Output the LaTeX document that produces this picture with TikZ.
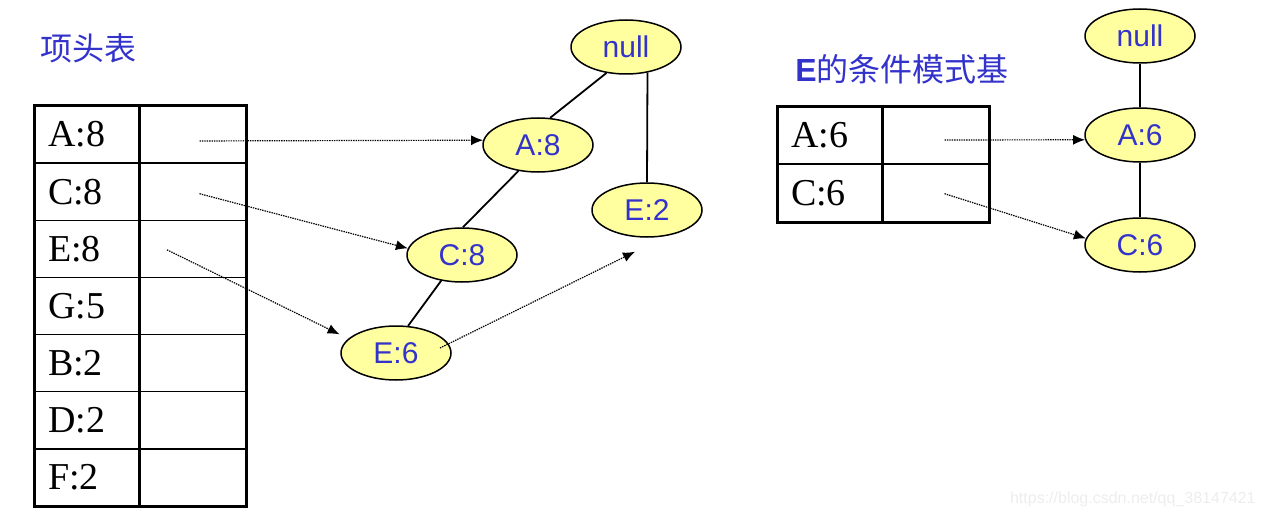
\documentclass[tikz,border=0pt]{standalone}
\usepackage{fontspec}
\setmainfont{Liberation Serif}
\newfontfamily\nodefont{Liberation Sans}
\newfontfamily\cjk{Noto Sans CJK SC}
\usetikzlibrary{shapes.geometric,arrows.meta,positioning}
\definecolor{nodefill}{RGB}{255,255,160}
\definecolor{textblue}{RGB}{51,51,204}
\tikzstyle{item} = [draw, rectangle, line width=0.75pt, minimum height=28.57pt,
    inner xsep=6.5pt, inner ysep=0pt, text width=39pt, align=left,
    font=\fontsize{19}{19}\selectfont]
\tikzstyle{link} = [draw, rectangle, line width=0.75pt, minimum height=28.57pt,
    minimum width=52.5pt, inner sep=0pt]
\tikzstyle{fpnode} = [draw, ellipse, fill=nodefill, line width=0.75pt,
    minimum width=55pt, minimum height=27pt, inner sep=0pt, text=textblue,
    font=\nodefont\fontsize{15}{15}\selectfont]
\tikzstyle{edge} = [line width=0.9pt]
\tikzstyle{pointer} = [->, dash pattern=on 0.7pt off 0.5pt, line width=0.6pt]
\tikzstyle{title} = [anchor=west, text=textblue, inner sep=0pt,
    font=\cjk\fontsize{16}{16}\selectfont]

\begin{document}
\begin{tikzpicture}[x=0.5pt, y=-0.5pt, >={Latex[length=6pt,width=5pt]}]
          \useasboundingbox (0,0) rectangle (1263,519);

          % Titles
          \node [title] (head) at (40,48) {项头表};
          \node [title] (cond) at (795,69) {{\nodefont\bfseries E}的条件模式基};

          % Header table
          \foreach \lbl [count=\i] in {A:8,C:8,E:8,G:5,B:2,D:2,F:2} {
            \node [item] (k\i) at (87,{106+57.14*\i-28.57}) {\lbl};
            \node [link, right=0pt of k\i] (p\i) {};
          }
          \draw [line width=1.5pt] (k1.north west) rectangle (p7.south east);

          % FP-tree
          \node [fpnode] (root) at (626,47) {null};
          \node [fpnode] (A8) at (538,145) {A:8};
          \node [fpnode] (C8) at (462,255) {C:8};
          \node [fpnode] (E6) at (396,353) {E:6};
          \node [fpnode] (E2) at (647,210) {E:2};
          \coordinate (e6in) at ([xshift=-8.5pt,yshift=-0.5pt]E6.north west);
          \coordinate (e2in) at ([xshift=-6pt,yshift=-7pt]E2.south);

          % Conditional pattern base of E
          \foreach \lbl [count=\i] in {A:6,C:6} {
            \node [item] (ck\i) at (830,{107+57.14*\i-28.57}) {\lbl};
            \node [link, right=0pt of ck\i] (cp\i) {};
          }
          \draw [line width=1.5pt] (ck1.north west) rectangle (cp2.south east);

          \node [fpnode] (croot) at (1140,36) {null};
          \node [fpnode] (A6) at (1140,135) {A:6};
          \node [fpnode] (C6) at (1140,245) {C:6};

          % Connections
          \draw [edge] (root.233) -- (A8.66);
          \draw [edge] (A8.233) -- (C8.88);
          \draw [edge] (C8.231) -- (E6.66);
          \draw [edge] (root.310) -- (E2.north);
          \draw [edge] (croot) -- (A6);
          \draw [edge] (A6) -- (C6);

          \draw [pointer] ([xshift=3.25pt,yshift=-3.2pt]p1.center) -- (A8.175);
          \draw [pointer] ([xshift=3.25pt,yshift=-1pt]p2.center) -- (C8.173);
          \draw [pointer] ([xshift=-13pt,yshift=-0.5pt]p3.center) -- (e6in);
          \draw [pointer] ([xshift=22pt,yshift=2.5pt]E6.center) -- (e2in);
          \draw [pointer] ([xshift=4.25pt,yshift=-2.2pt]cp1.center) -- (A6.185);
          \draw [pointer] ([xshift=4.25pt,yshift=-0.5pt]cp2.center) -- (C6.173);

          \node [anchor=east, text=black!7, inner sep=0pt,
            font=\nodefont\fontsize{8}{8}\selectfont] (mark) at (1256,499)
            {https://blog.csdn.net/qq\_38147421};
      \end{tikzpicture}
\end{document}
